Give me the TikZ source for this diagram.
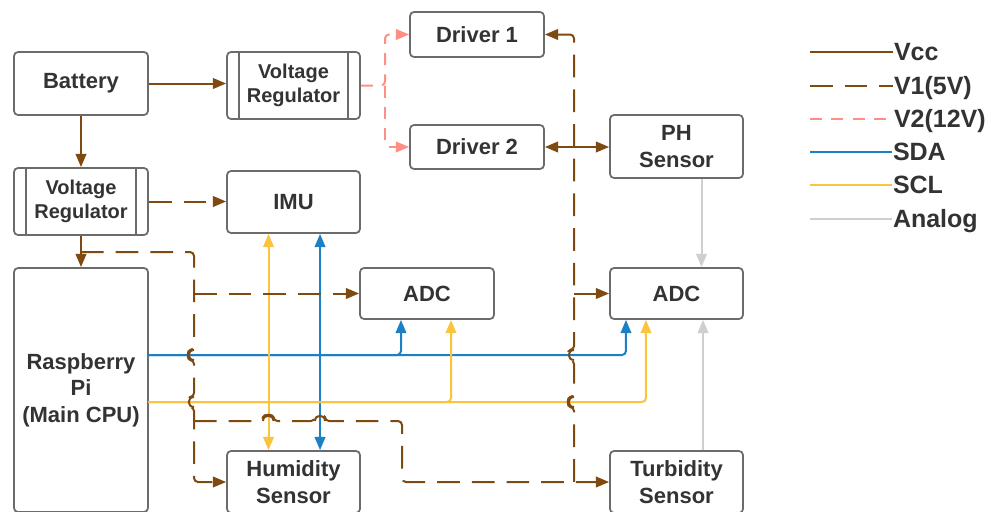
\documentclass[tikz,border=0pt]{standalone}
\usepackage{fontspec}
\setmainfont{Liberation Sans}
\usetikzlibrary{arrows.meta}
\definecolor{vbrown}{HTML}{7F4A12}
\definecolor{vpink}{HTML}{FF8F85}
\definecolor{vblue}{HTML}{1B80C4}
\definecolor{vyellow}{HTML}{FBC43E}
\definecolor{vgray}{HTML}{CFCFCF}
\definecolor{boxline}{HTML}{6B6B6B}
\definecolor{txt}{HTML}{333333}
\begin{document}
\begin{tikzpicture}[x=0.75pt,y=-0.75pt,
  >={Triangle[length=10pt,width=8pt]},
  blk/.style={draw=boxline, line width=1.3pt, rounded corners=3pt, fill=white, text=txt,
    font=\bfseries\fontsize{16.5}{20}\selectfont, align=center, inner sep=0pt},
  vrb/.style={blk, font=\bfseries\fontsize{15}{18}\selectfont},
  bw/.style={minimum width=#1*0.75pt},
  bh/.style={minimum height=#1*0.75pt},
  conn/.style={line width=1.5pt, rounded corners=3pt},
  vcc/.style={conn, draw=vbrown},
  vone/.style={vcc, dash pattern=on 17pt off 9pt},
  vtwo/.style={conn, draw=vpink, dash pattern=on 9pt off 7pt},
  sda/.style={conn, draw=vblue},
  scl/.style={conn, draw=vyellow},
  ana/.style={conn, draw=vgray},
  hop/.style={draw=vbrown, line width=1.5pt},
  legtxt/.style={text=txt, font=\bfseries\fontsize{18.75}{22}\selectfont, inner sep=0pt, anchor=base west, yshift=-6.7pt}
]
\useasboundingbox (0,0) rectangle (991,511);
\fill[white] (0,0) rectangle (991,511);
\clip (0,0) rectangle (991,511);

% boxes
\node[blk, bw=134, bh=63] (bat) at (81,83.5) {Battery};
\node[vrb, bw=133, bh=67] (vr1) at (293.5,85.5) {Voltage\\Regulator};
\node[vrb, bw=134, bh=67] (vr2) at (81,201.5) {Voltage\\Regulator};
\node[blk, bw=133, bh=62] (imu) at (293.5,202) {IMU};
\node[blk, bw=134, bh=45] (drv1) at (477,34.5) {Driver 1};
\node[blk, bw=134, bh=44] (drv2) at (477,147) {Driver 2};
\node[blk, bw=133, bh=63] (ph) at (676.5,146.5) {PH\\Sensor};
\node[blk, bw=134, bh=51] (adc1) at (427,293.5) {ADC};
\node[blk, bw=133, bh=51] (adc2) at (676.5,293.5) {ADC};
\node[blk, bw=134, bh=244] (rpi) at (81,390) {Raspberry\\Pi\\(Main CPU)};
\node[blk, bw=133, bh=62] (hum) at (293.5,482) {Humidity\\Sensor};
\node[blk, bw=133, bh=62] (tur) at (676.5,482) {Turbidity\\Sensor};

% regulator side bars
\foreach \n in {vr1,vr2}{
  \draw[boxline, line width=1.3pt] ([xshift=9.75pt]\n.north west) -- ([xshift=9.75pt]\n.south west);
  \draw[boxline, line width=1.3pt] ([xshift=-9.75pt]\n.north east) -- ([xshift=-9.75pt]\n.south east);
}

% coordinates
\coordinate (s0) at (148,355);
\coordinate (c0) at (148,402);
\coordinate (a0) at (81,252);
\coordinate (a1) at (194,252);
\coordinate (t0) at (194,421);
\coordinate (t1) at (402,421);
\coordinate (p0) at (385,85.5);
\coordinate (b0) at (574,34.5);
\coordinate (b1) at (574,147);
\coordinate (b2) at (574,293.5);
\coordinate (b3) at (574,482);

% SDA
\draw[sda,->] (s0) -| ([xshift=-19.5pt]adc1.south);
\draw[sda,->] (s0) -| ([xshift=-37.9pt]adc2.south);
\draw[sda,<->] ([xshift=19.9pt]imu.south) -- ([xshift=19.9pt]hum.north);
% SCL
\draw[scl,->] (c0) -| ([xshift=18pt]adc1.south);
\draw[scl,->] (c0) -| ([xshift=-22.9pt]adc2.south);
\draw[scl,<->] ([xshift=-18.75pt]imu.south) -- ([xshift=-18.75pt]hum.north);
% Analog
\draw[ana,->] ([xshift=18.75pt]ph.south) -- ([xshift=18.75pt]adc2.north);
\draw[ana,->] ([xshift=19.9pt]tur.north) -- ([xshift=19.9pt]adc2.south);

% Vcc
\draw[vcc,->] (bat.east) -- (vr1.west |- bat.east);
\draw[vcc,->] (bat.south) -- (vr2.north);
\draw[vcc,->] (vr2.south) -- (rpi.north);

% V1
\draw[vone,->] (vr2.east) -- (imu.west |- vr2.east);
\draw[vone,->] (a0) -- (a1) -- (194,350) .. controls (187,350) and (187,360) .. (194,360)
  -- (194,397) .. controls (187,397) and (187,407) .. (194,407) -- (194,482) -- (hum.west);
\draw[vone,->] (a1 |- adc1.west) -- (adc1.west);
\draw[vone,->] (t0) -- (263,421) .. controls (263,414) and (273.5,414) .. (273.5,421)
  -- (315,421) .. controls (315,414) and (325,414) .. (325,421) -- (t1) -- (t1 |- tur.west) -- (tur.west);
\draw[vone,<-] (drv1.east) -- (b0) -- (574,350) .. controls (567,350) and (567,360) .. (574,360)
  -- (574,397) .. controls (567,397) and (567,407) .. (574,407) -- (b3);
\draw[vone,->] (b1) -- (drv2.east);
\draw[vone,->] (b1) -- (ph.west |- b1);
\draw[vone,->] (b2) -- (adc2.west);
% visible hops
\draw[hop] (194,350) .. controls (187,350) and (187,360) .. (194,360);
\draw[hop] (194,397) .. controls (187,397) and (187,407) .. (194,407);
\draw[hop] (574,350) .. controls (567,350) and (567,360) .. (574,360);
\draw[hop] (574,397) .. controls (567,397) and (567,407) .. (574,407);
\draw[hop] (263,421) .. controls (263,414) and (273.5,414) .. (273.5,421);
\draw[hop] (315,421) .. controls (315,414) and (325,414) .. (325,421);

% V2
\draw[vtwo,->] (vr1.east) -- (p0) |- (drv1.west);
\draw[vtwo,->] (p0) |- (drv2.west);

% legend
\draw[vcc] (810,52) -- (893,52) node[legtxt] {Vcc};
\draw[vone] (810,85.5) -- (893,85.5) node[legtxt] {V1(5V)};
\draw[vtwo] (810,118.5) -- (893,118.5) node[legtxt] {V2(12V)};
\draw[sda] (810,152) -- (892,152) node[legtxt] {SDA};
\draw[scl] (810,185) -- (892,185) node[legtxt] {SCL};
\draw[ana] (810,218.5) -- (892,218.5) node[legtxt] {Analog};
\end{tikzpicture}
\end{document}
